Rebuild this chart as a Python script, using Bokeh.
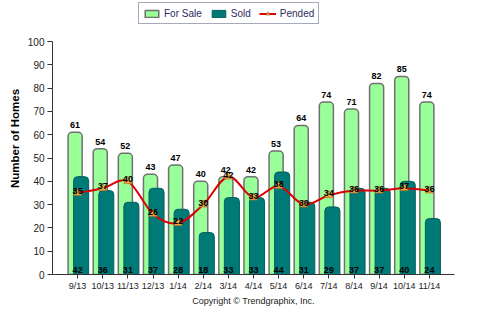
import numpy as np
from bokeh.plotting import figure
from bokeh.models import (Range1d, FixedTicker, Legend, LegendItem, ColumnDataSource)
from bokeh.core.properties import value
from bokeh.embed import file_html
from bokeh.resources import INLINE

months = ["9/13", "10/13", "11/13", "12/13", "1/14", "2/14", "3/14", "4/14",
          "5/14", "6/14", "7/14", "8/14", "9/14", "10/14", "11/14"]
for_sale = [61, 54, 52, 43, 47, 40, 42, 42, 53, 64, 74, 71, 82, 85, 74]
sold = [42, 36, 31, 37, 28, 18, 33, 33, 44, 31, 29, 37, 37, 40, 24]
pended = [35, 37, 40, 26, 22, 30, 42, 33, 38, 30, 34, 36, 36, 37, 36]
y_ticks = list(range(0, 101, 10))

FONT = "Liberation Sans"
xs = np.arange(1, len(months) + 1, dtype=float)

W, H = 489, 321
p = figure(width=W, height=H, output_backend="svg", toolbar_location=None,
           x_range=Range1d(0, 16), y_range=Range1d(0, 100 * 272 / 233),
           min_border_left=52, min_border_right=35, min_border_top=2,
           min_border_bottom=47)
p.outline_line_color = None
p.grid.visible = False
p.background_fill_color = "white"

src = ColumnDataSource(dict(
    x=xs, fs_x=xs - 0.1, sd_x=xs + 0.14,
    for_sale=for_sale, sold=sold, pended=pended,
    fs_lbl=[str(v) for v in for_sale], sd_lbl=[str(v) for v in sold],
    pd_lbl=[str(v) for v in pended], base=[0.6] * len(xs)))

r_fs = p.vbar(x="fs_x", top="for_sale", width=0.56, source=src,
              fill_color="#99FF99", line_color="#707070", line_width=1.5,
              border_radius=(4, 4, 0, 0))
r_sd = p.vbar(x="sd_x", top="sold", width=0.6, source=src,
              fill_color="#007A76", line_color="#00605C", line_width=1,
              border_radius=(4, 4, 0, 0))

# cardinal spline (tension 0.5) through the pended points
t = 0.5
P = np.column_stack([xs, np.array(pended, dtype=float)])
Pp = np.vstack([P[0], P, P[-1]])
x0, y0, x1, y1, cx0, cy0, cx1, cy1 = ([] for _ in range(8))
for i in range(len(P) - 1):
    a, b, c, d = Pp[i], Pp[i + 1], Pp[i + 2], Pp[i + 3]
    c1 = b + t * (c - a) / 3
    c2 = c - t * (d - b) / 3
    x0.append(b[0]); y0.append(b[1]); x1.append(c[0]); y1.append(c[1])
    cx0.append(c1[0]); cy0.append(c1[1]); cx1.append(c2[0]); cy1.append(c2[1])
r_ln = p.bezier(x0=x0, y0=y0, x1=x1, y1=y1, cx0=cx0, cy0=cy0, cx1=cx1, cy1=cy1,
                line_color="#DD0000", line_width=2)
r_mk = p.scatter(x="x", y="pended", source=src, marker="triangle", size=8,
                 fill_color="#F5A53C", line_color="#B07830", line_width=0.8)

p.text(x="fs_x", y="for_sale", text="fs_lbl", source=src, text_align="center",
       text_baseline="bottom", y_offset=-4, text_font=value(FONT),
       text_font_size="9px", text_font_style="bold", text_color="#000000")
p.text(x="x", y="base", text="sd_lbl", source=src, text_align="center",
       text_baseline="bottom", text_font=value(FONT),
       text_font_size="9px", text_font_style="bold", text_color="#000000")
p.text(x="x", y="pended", text="pd_lbl", source=src, text_align="center",
       text_baseline="bottom", y_offset=1, text_font=value(FONT),
       text_font_size="9px", text_font_style="bold", text_color="#000000")

# axes
ya = p.yaxis[0]
ya.ticker = FixedTicker(ticks=y_ticks)
ya.bounds = (0, 100)
ya.minor_tick_line_color = None
ya.major_tick_out = 5
ya.major_tick_in = 0
ya.axis_line_color = "#333333"
ya.major_tick_line_color = "#333333"
ya.major_label_text_font = FONT
ya.major_label_text_font_size = "10px"
ya.major_label_text_color = "#222222"
ya.major_label_standoff = 3
ya.axis_label = "Number of Homes"
ya.axis_label_text_font = FONT
ya.axis_label_text_font_size = "11.5px"
ya.axis_label_text_font_style = "bold"
ya.axis_label_text_color = "#000000"
ya.axis_label_standoff = 4

xa = p.xaxis[0]
xa.ticker = FixedTicker(ticks=list(xs))
xa.major_label_overrides = {float(v): m for v, m in zip(xs, months)}
xa.major_label_overrides.update({int(v): m for v, m in zip(xs, months)})
xa.minor_tick_line_color = None
xa.major_tick_out = 4
xa.major_tick_in = 0
xa.axis_line_color = "#333333"
xa.major_tick_line_color = "#333333"
xa.major_label_text_font = FONT
xa.major_label_text_font_size = "9px"
xa.major_label_text_color = "#222222"
xa.major_label_standoff = 2
xa.axis_label = "Copyright \u00a9 Trendgraphix, Inc."
xa.axis_label_text_font = FONT
xa.axis_label_text_font_size = "9px"
xa.axis_label_text_font_style = "normal"
xa.axis_label_text_color = "#222222"
xa.axis_label_standoff = 2

legend = Legend(items=[
    LegendItem(label="For Sale", renderers=[r_fs]),
    LegendItem(label="Sold", renderers=[r_sd]),
    LegendItem(label="Pended", renderers=[r_ln, r_mk]),
], orientation="horizontal", location=(86, 250))
legend.label_text_font = FONT
legend.label_text_font_size = "10px"
legend.label_text_color = "#2E2A5E"
legend.glyph_width = 17
legend.glyph_height = 9
legend.label_height = 12
legend.label_standoff = 4
legend.spacing = 8
legend.padding = 4
legend.margin = 0
legend.border_line_color = "#4A5878"
legend.border_line_width = 1.5
legend.background_fill_color = "white"
legend.background_fill_alpha = 1
p.add_layout(legend)

open("out.html", "w").write(file_html(p, INLINE))
